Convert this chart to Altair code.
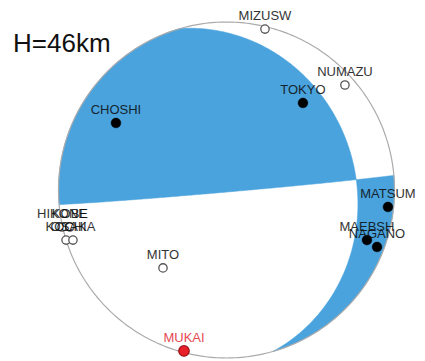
import numpy as np
import pandas as pd
import altair as alt

# Focal mechanism: nodal planes (strike, dip) in degrees
plane_strike = [85.0, 344.0]
plane_dip = [89.0, 24.0]
depth_label = "H=46km"

# Station polarities, already projected onto the lower-hemisphere unit circle
stations = ["MIZUSW", "NUMAZU", "TOKYO", "CHOSHI", "MATSUM", "MAEBSH", "NAGANO",
            "MITO", "MUKAI", "HIKONE", "KOBE", "KOCHI", "OSAKA"]
st_x = [0.229, 0.705, 0.455, -0.658, 0.961, 0.836, 0.896,
        -0.378, -0.253, -0.979, -0.932, -0.955, -0.914]
st_y = [0.958, 0.625, 0.518, 0.399, -0.101, -0.298, -0.339,
        -0.464, -0.958, -0.220, -0.220, -0.298, -0.298]
st_kind = ["dilatation", "dilatation", "compression", "compression", "compression",
           "compression", "compression", "dilatation", "selected", "dilatation",
           "dilatation", "dilatation", "dilatation"]

BLUE = "#4aa3dd"


def plane_basis(strike, dip):
    phi, dl = np.radians(strike), np.radians(dip)
    s = np.array([np.sin(phi), np.cos(phi), 0.0])
    h = np.array([np.cos(phi), -np.sin(phi), 0.0])
    d = np.cos(dl) * h + np.sin(dl) * np.array([0.0, 0.0, 1.0])
    return s, d


def equal_area(v):
    # lower hemisphere Schmidt projection of unit vectors (x east, y north, z down)
    k = 1.0 / np.sqrt(1.0 + np.clip(v[2], 0, 1))
    return v[0] * k, v[1] * k


def plane_arc(i, t0, t1, n=150):
    s, d = plane_basis(plane_strike[i], plane_dip[i])
    t = np.linspace(t0, t1, n)
    v = np.outer(s, np.cos(t)) + np.outer(d, np.sin(t))
    x, y = equal_area(v)
    return list(zip(x, y))


def rim_arc(a0, a1, n=150):
    a = np.radians(np.linspace(a0, a1, n))
    return list(zip(np.sin(a), np.cos(a)))


# null axis: intersection of the two nodal planes
s1, d1 = plane_basis(plane_strike[0], plane_dip[0])
s2, d2 = plane_basis(plane_strike[1], plane_dip[1])
b = np.cross(np.cross(s1, d1), np.cross(s2, d2))
b /= np.linalg.norm(b)
if b[2] < 0:
    b = -b
tb1 = np.arctan2(b @ d1, b @ s1)
tb2 = np.arctan2(b @ d2, b @ s2)

# the two compressional quadrants
quad_a = (plane_arc(0, np.pi, tb1) + plane_arc(1, tb2, 0)
          + rim_arc(plane_strike[1], plane_strike[0] + 180))
quad_b = (plane_arc(0, tb1, 0) + rim_arc(plane_strike[0], plane_strike[1] - 180)
          + plane_arc(1, np.pi, tb2))


def polygon(pts):
    ring = [[float(x), float(y)] for x, y in pts]
    ring.append(ring[0])
    return {"type": "Feature", "properties": {},
            "geometry": {"type": "Polygon", "coordinates": [ring]}}


rim = [[float(x), float(y)] for x, y in rim_arc(0, 360, 361)]
rim_feature = {"type": "Feature", "properties": {},
               "geometry": {"type": "LineString", "coordinates": rim}}

proj = dict(type="identity", reflectY=True, scale=168, translate=[226.5, 190])

quadrants = alt.Chart(alt.Data(values=[polygon(quad_a), polygon(quad_b)])).mark_geoshape(
    fill=BLUE, stroke=BLUE, strokeWidth=0.5
).project(**proj)

outline = alt.Chart(alt.Data(values=[rim_feature])).mark_geoshape(
    filled=False, stroke="#ababab", strokeWidth=1.2
).project(**proj)

df = pd.DataFrame({"name": stations, "x": st_x, "y": st_y, "kind": st_kind})
base = alt.Chart(df).encode(longitude="x:Q", latitude="y:Q")

open_pts = base.transform_filter(alt.datum.kind == "dilatation").mark_point(
    shape="circle", filled=True, fill="white", stroke="#555555", strokeWidth=1.3,
    size=70, opacity=1
).project(**proj)

solid_pts = base.transform_filter(alt.datum.kind == "compression").mark_point(
    shape="circle", filled=True, fill="black", stroke="black", strokeWidth=0.5,
    size=95, opacity=1
).project(**proj)

sel_pts = base.transform_filter(alt.datum.kind == "selected").mark_point(
    shape="circle", filled=True, fill="#e8202a", stroke="#9c1015", strokeWidth=1.2,
    size=110, opacity=1
).project(**proj)

labels = base.mark_text(
    font="Liberation Sans", fontSize=13, baseline="alphabetic", align="center",
    dy=-9, opacity=0.85
).encode(
    text="name:N",
    color=alt.Color("kind:N", legend=None,
                    scale=alt.Scale(domain=["dilatation", "compression", "selected"],
                                    range=["#0c0c0c", "#0c0c0c", "#e02a32"]))
).project(**proj)

title = alt.Chart(pd.DataFrame({"t": [depth_label]})).mark_text(
    font="Liberation Sans", fontSize=26, align="left", baseline="alphabetic",
    color="#111111"
).encode(text="t:N", x=alt.value(13), y=alt.value(52))

chart = alt.layer(quadrants, outline, open_pts, solid_pts, sel_pts, labels, title).properties(
    width=425, height=361, autosize=alt.AutoSizeParams(type="none"), padding=0,
    background="white"
).configure_view(stroke=None)

chart.save("out.html", embed_options={"renderer": "svg", "actions": False})
